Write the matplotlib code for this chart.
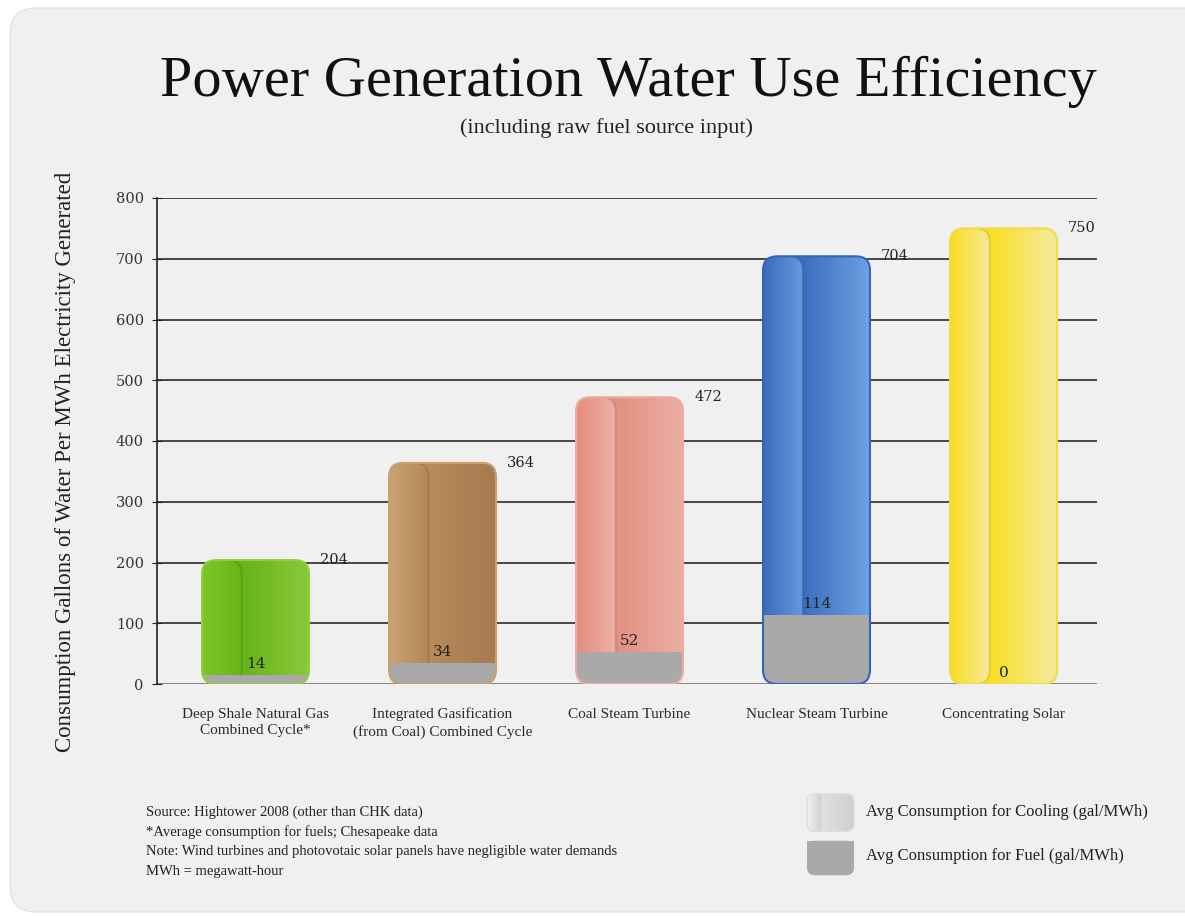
import numpy as np
from matplotlib import pyplot as plt
from matplotlib.colors import to_rgb
from matplotlib.patches import FancyBboxPatch, Rectangle


categories = ['Deep Shale Natural Gas\nCombined Cycle*',
              'Integrated Gasification\n(from Coal) Combined Cycle',
              'Coal Steam Turbine',
              'Nuclear Steam Turbine',
              'Concentrating Solar']
totals = [204, 364, 472, 704, 750]
fuel = [14, 34, 52, 114, 0]
yticks = [0, 100, 200, 300, 400, 500, 600, 700, 800]

footnotes = ['Source: Hightower 2008 (other than CHK data)',
             '*Average consumption for fuels; Chesapeake data',
             'Note: Wind turbines and photovotaic solar panels have negligible water demands',
             'MWh = megawatt-hour']
legend_labels = ['Avg Consumption for Cooling (gal/MWh)',
                 'Avg Consumption for Fuel (gal/MWh)']

# colours: (main left, main right, tube left, tube right, edge)
bar_styles = [('#66b31a', '#8cc83a', '#80c526', '#68b41a', '#8fd03a'),
              ('#b98b5c', '#a57a4e', '#cba374', '#b48755', '#c9a06e'),
              ('#e39080', '#eaaea4', '#e58b7a', '#efb2a6', '#ecaaa0'),
              ('#3b6dbe', '#6ca1e2', '#3a6bbd', '#6599dc', '#3465b8'),
              ('#f9de22', '#f4eaa0', '#f9dc20', '#f6ea9a', '#f3dc40')]
fuel_color = '#a9a9a9'
serif = 'Liberation Serif'
num_font = 'DejaVu Serif'

W, H = 1185, 916
fig = plt.figure(figsize=(W / 100, H / 100), dpi=100)
fig.patch.set_facecolor('white')

panel = FancyBboxPatch((10 / W, 1 - 912 / H), 1.05, (912 - 8) / H,
                       boxstyle='round,pad=0,rounding_size=0.022',
                       mutation_aspect=W / H, transform=fig.transFigure,
                       facecolor='#f0f0f0', edgecolor='#e4e4e4', lw=1, zorder=-5)
fig.add_artist(panel)

ax = fig.add_axes([157 / W, 1 - 684 / H, 940 / W, 486 / H])
ax.set_facecolor('none')
ax.set_xlim(-0.527, 4.5)
ax.set_ylim(0, 800)

x = np.arange(len(categories))
width = 0.572
tube_frac = 0.37

for s in ['top', 'right', 'bottom']:
    ax.spines[s].set_visible(False)
ax.spines['left'].set_color('#222222')
ax.spines['left'].set_linewidth(1.2)
ax.set_yticks(yticks)
ax.set_yticklabels([str(v) for v in yticks], fontfamily=num_font, fontsize=10.5, color='#333333')
ax.tick_params(axis='y', direction='inout', length=7, color='#222222', pad=6)
for v in yticks[1:]:
    ax.axhline(v, color='#3a3a3a', lw=1.3, zorder=0)
ax.axhline(0, color='#8a8a8a', lw=2.2, zorder=0)

ax.set_xticks(x)
ax.set_xticklabels(categories, fontfamily=serif, fontsize=11, color='#2a2a2a', linespacing=1.3)
ax.tick_params(axis='x', length=0, pad=17)

# pixel scale, for round corners that look round
fig.canvas.draw()
p0 = ax.transData.transform((0, 0))
p1 = ax.transData.transform((1, 1))
asp = (p1[0] - p0[0]) / (p1[1] - p0[1])
r = 14 / (p1[0] - p0[0])


def ramp(c1, c2, n=200):
    a = np.array(to_rgb(c1))
    b = np.array(to_rgb(c2))
    t = np.linspace(0, 1, n)[:, None]
    return (a + (b - a) * t)[None, :, :]


bars = ax.bar(x, totals, width, color='none', zorder=2)
fuel_bars = ax.bar(x, fuel, width, color=fuel_color, zorder=4)

for i, b in enumerate(bars):
    x0, bw, h = b.get_x(), b.get_width(), b.get_height()
    st = bar_styles[i]
    outer = FancyBboxPatch((x0, 0), bw, h, boxstyle=f'round,pad=0,rounding_size={r}',
                           mutation_aspect=asp, facecolor='none', edgecolor=st[4],
                           lw=1.5, zorder=5)
    ax.add_patch(outer)
    n_left = int(200 * tube_frac)
    g = np.concatenate([ramp(st[0], st[0], n_left), ramp(st[0], st[1], 200 - n_left)], axis=1)
    im = ax.imshow(g, extent=(x0, x0 + bw, 0, h), aspect='auto',
                   interpolation='bilinear', zorder=2)
    im.set_clip_path(outer)
    tw = bw * tube_frac
    tube = FancyBboxPatch((x0, 0), tw, h, boxstyle=f'round,pad=0,rounding_size={r}',
                          mutation_aspect=asp, facecolor='none', edgecolor='none', zorder=3)
    ax.add_patch(tube)
    im2 = ax.imshow(ramp(st[2], st[3]), extent=(x0, x0 + tw, 0, h), aspect='auto',
                    interpolation='bilinear', zorder=3)
    im2.set_clip_path(tube)
    shade = FancyBboxPatch((x0, 0), tw, h, boxstyle=f'round,pad=0,rounding_size={r}',
                           mutation_aspect=asp, facecolor='none', edgecolor=(0, 0, 0, 0.12),
                           lw=1.2, zorder=3)
    ax.add_patch(shade)
    shade.set_clip_path(outer)
    fuel_bars[i].set_clip_path(outer)

    ax.annotate(str(totals[i]), (x0 + bw, h), xytext=(8, 0), textcoords='offset points',
                ha='left', va='center', fontfamily=num_font, fontsize=10.5, color='#222222')
    ax.annotate(str(fuel[i]), (x[i], fuel[i]), xytext=(0, 3), textcoords='offset points',
                ha='center', va='bottom', fontfamily=num_font, fontsize=11, color='#222222',
                zorder=6)

ax.set_xlim(-0.527, 4.5)
ax.set_ylim(0, 800)

fig.text(628 / W, 1 - 82 / H, 'Power Generation Water Use Efficiency', ha='center', va='center',
         fontfamily=serif, fontsize=42, color='#111111')
fig.text(607 / W, 1 - 128 / H, '(including raw fuel source input)', ha='center', va='center',
         fontfamily=serif, fontsize=16, color='#222222')
fig.text(66 / W, 1 - 462 / H, 'Consumption Gallons of Water Per MWh Electricity Generated',
         ha='center', va='center', rotation=90, fontfamily=serif, fontsize=16.5, color='#222222')

for k, line in enumerate(footnotes):
    fig.text(146 / W, 1 - (812 + 20 * k) / H, line, ha='left', va='center',
             fontfamily=serif, fontsize=10.5, color='#222222')

# legend swatches
sw1 = fig.add_axes([806 / W, 1 - 832 / H, 49 / W, 39 / H])
sw2 = fig.add_axes([806 / W, 1 - 876 / H, 49 / W, 36 / H])
for sw in (sw1, sw2):
    sw.set_xlim(0, 1)
    sw.set_ylim(0, 1)
    sw.axis('off')
box1 = FancyBboxPatch((0.02, 0.02), 0.96, 0.96, boxstyle='round,pad=0,rounding_size=0.16',
                      mutation_aspect=49 / 39, facecolor='none', edgecolor='#dddddd', lw=1)
sw1.add_patch(box1)
g = np.concatenate([ramp('#f4f4f4', '#d0d0d0', 60), ramp('#e0e0e0', '#cfcfcf', 140)], axis=1)
im3 = sw1.imshow(g, extent=(0.02, 0.98, 0.02, 0.98), aspect='auto', interpolation='bilinear')
im3.set_clip_path(box1)
box2 = FancyBboxPatch((0.02, 0.02), 0.96, 0.96, boxstyle='round,pad=0,rounding_size=0.16',
                      mutation_aspect=49 / 36, facecolor=fuel_color, edgecolor='none')
sw2.add_patch(box2)
sw2.add_patch(Rectangle((0.02, 0.5), 0.96, 0.48, facecolor=fuel_color, edgecolor='none'))

fig.text(866 / W, 1 - 812 / H, legend_labels[0], ha='left', va='center',
         fontfamily=serif, fontsize=12, color='#222222')
fig.text(866 / W, 1 - 856 / H, legend_labels[1], ha='left', va='center',
         fontfamily=serif, fontsize=12, color='#222222')

plt.savefig('out.png', dpi=100)
